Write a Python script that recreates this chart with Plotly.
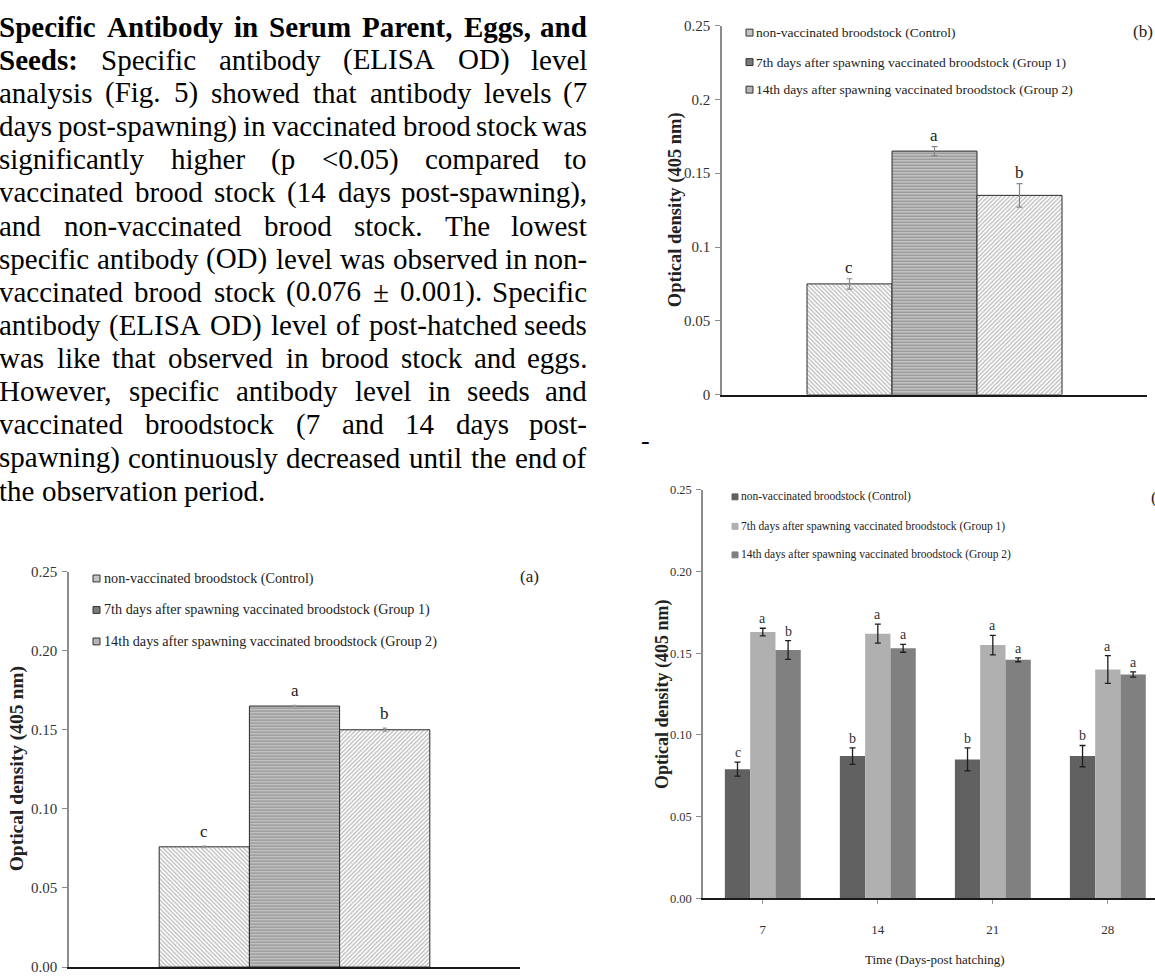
import plotly.graph_objects as go

W, H = 1155, 976

# ---------------- data ----------------
series_names = ["non-vaccinated broodstock (Control)",
                "7th days after spawning vaccinated broodstock (Group 1)",
                "14th days after spawning vaccinated broodstock (Group 2)"]

cat_a = ["Serum"]
od_a = [0.076, 0.165, 0.150]
err_a = [0.0005, 0.0005, 0.0010]
letters_a = ["c", "a", "b"]

cat_b = ["Eggs"]
od_b = [0.075, 0.165, 0.135]
err_b = [0.0035, 0.003, 0.008]
letters_b = ["c", "a", "b"]

days = ["7", "14", "21", "28"]
ctrl_c = [0.079, 0.087, 0.085, 0.087]
ctrl_err = [0.0043, 0.005, 0.007, 0.0065]
g1_c = [0.163, 0.162, 0.155, 0.140]
g1_err = [0.0023, 0.0058, 0.006, 0.0085]
g2_c = [0.152, 0.153, 0.146, 0.137]
g2_err = [0.0057, 0.0024, 0.0012, 0.0016]
ctrl_let = ["c", "b", "b", "b"]
g1_let = ["a", "a", "a", "a"]
g2_let = ["b", "a", "a", "a"]

yticks = [0, 0.05, 0.10, 0.15, 0.20, 0.25]

paragraph = [
    "Specific Antibody in Serum Parent, Eggs, and",
    "Seeds: Specific antibody (ELISA OD) level",
    "analysis (Fig. 5) showed that antibody levels (7",
    "days post-spawning) in vaccinated brood stock was",
    "significantly higher (p <0.05) compared to",
    "vaccinated brood stock (14 days post-spawning),",
    "and non-vaccinated brood stock. The lowest",
    "specific antibody (OD) level was observed in non-",
    "vaccinated brood stock (0.076 \u00b1 0.001). Specific",
    "antibody (ELISA OD) level of post-hatched seeds",
    "was like that observed in brood stock and eggs.",
    "However, specific antibody level in seeds and",
    "vaccinated broodstock (7 and 14 days post-",
    "spawning) continuously decreased until the end of",
    "the observation period.",
]

# ---------------- helpers ----------------
def px(x):
    return x / W

def py(y):
    return 1 - y / H

SERIF = "Liberation Serif, Times New Roman, serif"

REG = {' ': 250, '(': 333, ')': 333, ',': 250, '-': 333, '.': 250, ':': 278, '<': 564, '\u00b1': 564,
       'A': 722, 'B': 667, 'C': 667, 'D': 722, 'E': 611, 'F': 556, 'G': 722, 'H': 722, 'I': 333,
       'L': 611, 'O': 722, 'P': 556, 'S': 556, 'T': 611,
       'a': 444, 'b': 500, 'c': 444, 'd': 500, 'e': 444, 'f': 333, 'g': 500, 'h': 500, 'i': 278,
       'j': 278, 'k': 500, 'l': 278, 'm': 778, 'n': 500, 'o': 500, 'p': 500, 'q': 500, 'r': 333,
       's': 389, 't': 278, 'u': 500, 'v': 500, 'w': 722, 'x': 500, 'y': 500, 'z': 444}
BOLD = {' ': 250, ',': 250, ':': 333, 'A': 722, 'E': 667, 'P': 611, 'S': 556,
        'a': 500, 'b': 556, 'c': 444, 'd': 556, 'e': 444, 'f': 333, 'g': 500, 'h': 556, 'i': 278,
        'l': 278, 'm': 833, 'n': 556, 'o': 500, 'p': 556, 'r': 444, 's': 389, 't': 333, 'u': 556,
        'y': 500}

FS = 29
X0, X1 = -2, 588

def wwidth(word, bold):
    tab = BOLD if bold else REG
    return sum(tab.get(ch, 500) for ch in word) / 1000.0 * FS

annotations = []
shapes = []

for i, line in enumerate(paragraph):
    yc = 19 + 33.7 * i
    words = line.split(" ")
    bold_flags = [i == 0 or (i == 1 and k == 0) for k in range(len(words))]
    widths = [wwidth(w, b) for w, b in zip(words, bold_flags)]
    last = (i == len(paragraph) - 1)
    if last or len(words) == 1:
        gap = 0.25 * FS
    else:
        gap = (X1 - X0 - sum(widths)) / (len(words) - 1)
    x = X0
    for k, (w, b) in enumerate(zip(words, bold_flags)):
        txt = "<b>%s</b>" % w if b else w
        if (not last) and k == len(words) - 1 and len(words) > 1:
            annotations.append(dict(x=px(X1), y=py(yc), xref="paper", yref="paper", text=txt,
                                    showarrow=False, xanchor="right", yanchor="middle", borderpad=0,
                                    font=dict(family=SERIF, size=FS, color="black")))
        else:
            annotations.append(dict(x=px(x), y=py(yc), xref="paper", yref="paper", text=txt,
                                    showarrow=False, xanchor="left", yanchor="middle", borderpad=0,
                                    font=dict(family=SERIF, size=FS, color="black")))
        x += widths[k] + gap

# stray dash
annotations.append(dict(x=px(645), y=py(440), xref="paper", yref="paper", text="-", showarrow=False,
                        xanchor="center", yanchor="middle", font=dict(family=SERIF, size=26, color="black")))

fig = go.Figure()

# ---------------- panel geometry ----------------
panels = {
    "a": dict(x0=69, x1=520, ytop=573, ybot=975),
    "b": dict(x0=722, x1=1147, ytop=18, ybot=393),
    "c": dict(x0=703, x1=1155, ytop=490, ybot=905),
}

patterns = [dict(shape="\\", fgcolor="#707070", bgcolor="white", size=3, solidity=0.4),
            dict(shape="-", fgcolor="#4a4a4a", bgcolor="#d0d0d0", size=3, solidity=0.5),
            dict(shape="/", fgcolor="#707070", bgcolor="white", size=3, solidity=0.4)]

def add_single(cat, vals, errs, xa, ya, err_color, err_w):
    for k in range(3):
        fig.add_trace(go.Bar(
            x=cat, y=[vals[k]], width=0.2, offset=-0.3 + 0.2 * k,
            marker=dict(color="white", pattern=patterns[k], line=dict(color="#2a2a2a", width=1)),
            error_y=dict(type="data", array=[errs[k]], color=err_color, thickness=1.2, width=err_w),
            xaxis=xa, yaxis=ya, name=series_names[k], showlegend=False))

add_single(cat_a, od_a, err_a, "x", "y", "#999999", 2)
add_single(cat_b, od_b, err_b, "x2", "y2", "#888888", 3)

colors_c = ["#616161", "#b0b0b0", "#808080"]
vals_c = [ctrl_c, g1_c, g2_c]
errs_c = [ctrl_err, g1_err, g2_err]
lets_c = [ctrl_let, g1_let, g2_let]
bw = 0.22
for k in range(3):
    fig.add_trace(go.Bar(
        x=days, y=vals_c[k], width=bw, offset=-1.5 * bw + bw * k,
        marker=dict(color=colors_c[k], line=dict(width=0)),
        error_y=dict(type="data", array=errs_c[k], color="#1e1e1e", thickness=1.3, width=3),
        xaxis="x3", yaxis="y3", name=series_names[k], showlegend=False))

# letters
for k in range(3):
    annotations.append(dict(x=-0.3 + 0.2 * k + 0.1, y=od_a[k] + err_a[k], xref="x", yref="y",
                            text=letters_a[k], showarrow=False, yanchor="bottom", yshift=3,
                            font=dict(family=SERIF, size=17, color="#222")))
    annotations.append(dict(x=-0.3 + 0.2 * k + 0.1, y=od_b[k] + err_b[k], xref="x2", yref="y2",
                            text=letters_b[k], showarrow=False, yanchor="bottom", yshift=0,
                            font=dict(family=SERIF, size=17, color="#222")))
    for j in range(len(days)):
        annotations.append(dict(x=j - 1.5 * bw + bw * k + bw / 2, y=vals_c[k][j] + errs_c[k][j],
                                xref="x3", yref="y3", text=lets_c[k][j], showarrow=False,
                                yanchor="bottom", yshift=0, font=dict(family=SERIF, size=14, color="#333")))

# axes
def yaxis_cfg(p, fmt, fs):
    return dict(domain=[py(p["ybot"]), py(p["ytop"])], range=[0, 0.25], tickvals=yticks,
                tickformat=fmt, showgrid=False, zeroline=False, showline=True, linecolor="#8c8c8c",
                linewidth=1.5, ticks="outside", ticklen=5, tickcolor="#8c8c8c",
                tickfont=dict(family=SERIF, size=fs, color="#333"), ticklabelstandoff=2,
                fixedrange=True)

def xaxis_cfg(p, rng, showlabels, ticks):
    return dict(domain=[px(p["x0"]), px(p["x1"])], type="category", range=rng, showgrid=False,
                zeroline=False, showline=True, linecolor="#1a1a1a", linewidth=1.5,
                showticklabels=showlabels, ticks=ticks, ticklen=4, tickcolor="#999",
                tickfont=dict(family=SERIF, size=13, color="#333"), ticklabelstandoff=14,
                fixedrange=True)

pa, pb, pc = panels["a"], panels["b"], panels["c"]
layout_axes = dict(
    xaxis=dict(xaxis_cfg(pa, [-0.5, 0.5], False, ""), anchor="y"),
    yaxis=dict(yaxis_cfg(pa, ".2f", 15), anchor="x"),
    xaxis2=dict(xaxis_cfg(pb, [-0.5, 0.5], False, ""), anchor="y2"),
    yaxis2=dict(yaxis_cfg(pb, "", 15), anchor="x2"),
    xaxis3=dict(xaxis_cfg(pc, [-0.52, 3.41], True, "outside"), anchor="y3"),
    yaxis3=dict(yaxis_cfg(pc, ".2f", 12.5), anchor="x3"),
)

# y titles
for (xc, p, fs) in [(17, pa, 19.5), (675, pb, 18.5), (662, pc, 18)]:
    annotations.append(dict(x=px(xc), y=py((p["ytop"] + p["ybot"]) / 2), xref="paper", yref="paper",
                            text="<b>Optical density (405 nm)</b>", textangle=-90, showarrow=False,
                            xanchor="center", yanchor="middle",
                            font=dict(family=SERIF, size=fs, color="#222")))

# x title (c)
annotations.append(dict(x=px(935), y=py(967), xref="paper", yref="paper",
                        text="Time (Days-post hatching)", showarrow=False, xanchor="center",
                        yanchor="middle", font=dict(family=SERIF, size=13, color="#222")))

# panel labels
annotations.append(dict(x=px(529), y=py(578), xref="paper", yref="paper", text="(a)", showarrow=False,
                        xanchor="center", yanchor="middle", font=dict(family=SERIF, size=17, color="#222")))
annotations.append(dict(x=px(1143), y=py(24), xref="paper", yref="paper", text="(b)", showarrow=False,
                        xanchor="center", yanchor="middle", font=dict(family=SERIF, size=17, color="#222")))
annotations.append(dict(x=px(1149), y=py(498), xref="paper", yref="paper", text="(c)", showarrow=False,
                        xanchor="left", yanchor="middle", font=dict(family=SERIF, size=17, color="#222")))

# legends
legend_specs = [
    dict(px0=93, size=7, tx=103, ys=[580, 612, 644], fs=14.2,
         fills=["#c4c4c4", "#7a7a7a", "#b4b4b4"], border="#333"),
    dict(px0=746, size=7, tx=755, ys=[25, 55, 83], fs=13.5,
         fills=["#c4c4c4", "#7a7a7a", "#b4b4b4"], border="#333"),
    dict(px0=732, size=6, tx=740, ys=[497, 527, 556], fs=11.5,
         fills=colors_c, border=None),
]
for spec in legend_specs:
    for k in range(3):
        yc = spec["ys"][k]
        s = spec["size"]
        shapes.append(dict(type="rect", xref="paper", yref="paper",
                           x0=px(spec["px0"]), x1=px(spec["px0"] + s),
                           y0=py(yc + s / 2), y1=py(yc - s / 2),
                           fillcolor=spec["fills"][k],
                           line=dict(color=spec["border"] or spec["fills"][k], width=1)))
        annotations.append(dict(x=px(spec["tx"]), y=py(yc), xref="paper", yref="paper",
                                text=series_names[k], showarrow=False, xanchor="left",
                                yanchor="middle", borderpad=0,
                                font=dict(family=SERIF, size=spec["fs"], color="#222")))

fig.update_layout(
    width=W, height=H, margin=dict(l=0, r=0, t=0, b=0),
    paper_bgcolor="white", plot_bgcolor="white", barmode="overlay", showlegend=False,
    annotations=annotations, shapes=shapes, **layout_axes)

fig.write_html("out.html", config={"displayModeBar": False},
               post_script="document.body.style.margin='0';document.body.style.overflow='hidden';")
